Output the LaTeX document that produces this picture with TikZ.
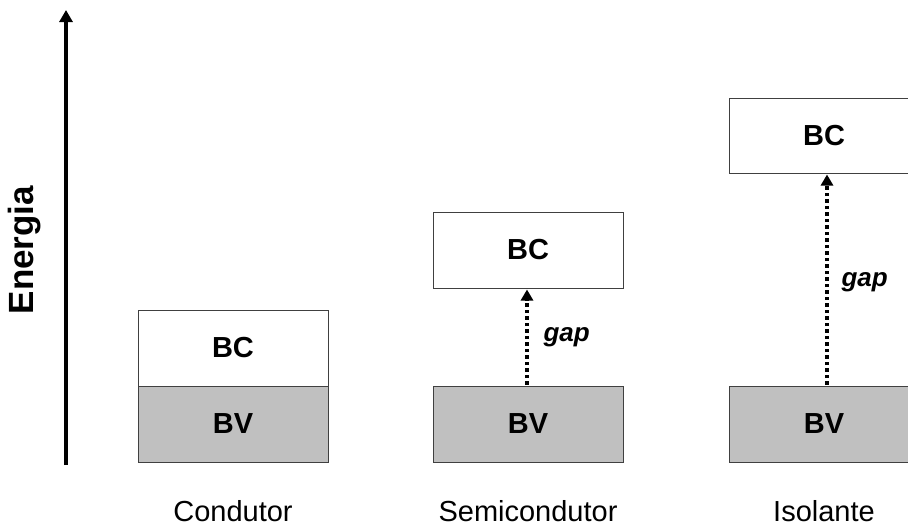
\documentclass[tikz,border=0pt]{standalone}
\usepackage{fontspec}
\setmainfont{Liberation Sans}
\usetikzlibrary{arrows.meta}
\definecolor{bvgray}{HTML}{C0C0C0}
\definecolor{edge}{HTML}{404040}
\begin{document}
\begin{tikzpicture}[x=1pt,y=-1pt,
  band/.style={draw=edge, line width=1pt, minimum width=190pt, minimum height=76pt, inner sep=0pt,
    font=\fontsize{29}{34}\selectfont\bfseries},
  bc/.style={band, fill=white},
  bv/.style={band, fill=bvgray},
  gaparrow/.style={line width=3.5pt, dash pattern=on 3.5pt off 3pt, -{Triangle[width=12pt,length=11pt]}, shorten <=1pt, shorten >=1pt},
  gaplabel/.style={font=\fontsize{26}{30}\selectfont\bfseries\itshape, anchor=west},
  matlabel/.style={font=\fontsize{29}{34}\selectfont}
]
\useasboundingbox (0,0) rectangle (908,528);
\clip (0,0) rectangle (908,528);
% axis
\coordinate (ax0) at (66,465);
\coordinate (ax1) at (66,10);
\draw[line width=4pt, -{Triangle[width=13pt,length=12pt]}] (ax0) -- (ax1);
\node[rotate=90, font=\fontsize{35}{40}\selectfont\bfseries] (energia) at (25,250) {Energia};
% Condutor
\node[bc] (cbc) at (233,348) {BC};
\node[bv] (cbv) at (233,424) {BV};
\node[matlabel] (clab) at (233,511) {Condutor};
% Semicondutor
\node[bc] (sbc) at (528,250) {BC};
\node[bv] (sbv) at (528,424) {BV};
\node[matlabel] (slab) at (528,511) {Semicondutor};
\draw[gaparrow] ([xshift=-1pt]sbv.north) -- ([xshift=-1pt]sbc.south);
\node[gaplabel] (sgap) at (540,337) {gap};
% Isolante
\node[bc, minimum height=75pt] (ibc) at (824,135.5) {BC};
\node[bv] (ibv) at (824,424) {BV};
\node[matlabel] (ilab) at (824,511) {Isolante};
\draw[gaparrow] ([xshift=3pt]ibv.north) -- ([xshift=3pt]ibc.south);
\node[gaplabel] (igap) at (838,282) {gap};
\end{tikzpicture}
\end{document}
